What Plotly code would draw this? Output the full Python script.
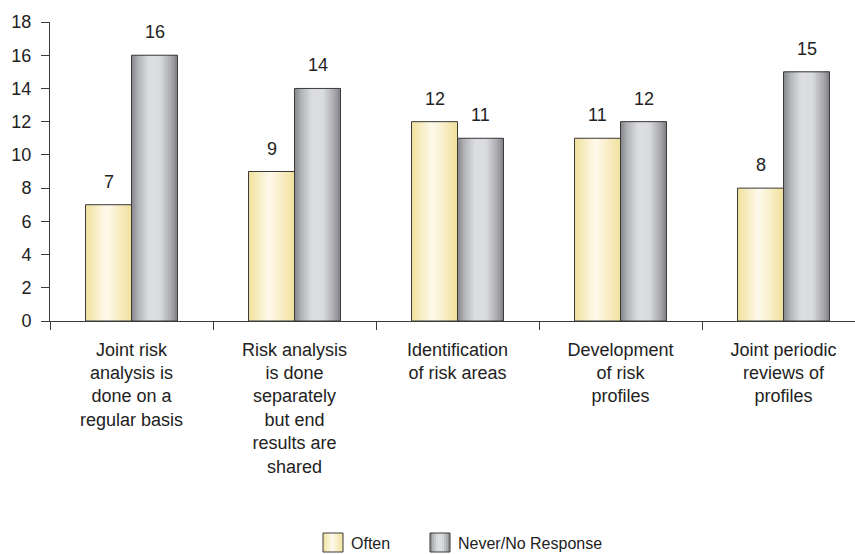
import plotly.graph_objects as go

# --- data ---
categories = [
    "Joint risk<br>analysis is<br>done on a<br>regular basis",
    "Risk analysis<br>is done<br>separately<br>but end<br>results are<br>shared",
    "Identification<br>of risk areas",
    "Development<br>of risk<br>profiles",
    "Joint periodic<br>reviews of<br>profiles",
]
often = [7, 9, 12, 11, 8]
never = [16, 14, 11, 12, 15]
series_names = ["Often", "Never/No Response"]
y_ticks = list(range(0, 19, 2))

# --- styling ---
W, H = 855, 554
ML, MR, MT, MB = 50, 0, 22, 233
FONT = "Liberation Sans, Arial, Helvetica, sans-serif"
TXT = "#222222"
EDGE = "#3a3a3a"
BAR_W = 0.282          # bar width in category units
N_STRIPS = 24

often_stops = [(0.0, "#F1E19C"), (0.45, "#FEF9EC"), (0.55, "#FCF5DF"), (1.0, "#F1E19C")]
never_stops = [(0.0, "#85868B"), (0.15, "#B3B4B8"), (0.38, "#DDDEE1"),
               (0.62, "#DADBDE"), (0.85, "#ACADB1"), (1.0, "#828388")]


def hex_rgb(h):
    h = h.lstrip("#")
    return tuple(int(h[i:i + 2], 16) for i in (0, 2, 4))


def grad(stops, t):
    for (t0, c0), (t1, c1) in zip(stops, stops[1:]):
        if t0 <= t <= t1:
            f = (t - t0) / (t1 - t0) if t1 > t0 else 0
            a, b = hex_rgb(c0), hex_rgb(c1)
            r = [round(a[k] + (b[k] - a[k]) * f) for k in range(3)]
            return "rgb(%d,%d,%d)" % tuple(r)
    return stops[-1][1]


fig = go.Figure()

x_range = [-0.5, -0.5 + (W - ML - MR) / 163.0]

for vals, stops, start in ((often, often_stops, -BAR_W), (never, never_stops, 0.0)):
    dw = BAR_W / N_STRIPS
    # shaded strips, each running to the right edge so no seams show
    for i in range(N_STRIPS):
        fig.add_trace(go.Bar(
            x=categories, y=vals,
            offset=start + i * dw, width=BAR_W - i * dw,
            marker=dict(color=grad(stops, (i + 0.5) / N_STRIPS), line=dict(width=0)),
            showlegend=False, hoverinfo="skip",
        ))
    # outline
    fig.add_trace(go.Bar(
        x=categories, y=vals, offset=start, width=BAR_W,
        marker=dict(color="rgba(0,0,0,0)", line=dict(color=EDGE, width=1)),
        showlegend=False, hoverinfo="skip",
    ))

# value labels above each bar
for vals, shift in ((often, -23), (never, 23)):
    for c, v in zip(categories, vals):
        fig.add_annotation(x=c, y=v, text=str(v), showarrow=False, xshift=shift,
                           yshift=23, font=dict(family=FONT, size=18, color=TXT))

# legend drawn as gradient swatches + labels
pw, ph = W - ML - MR, H - MT - MB


def px_x(p):
    return (p - ML) / pw


def px_y(p):
    return (H - MB - p) / ph


legend_items = [(323, often_stops), (430, never_stops)]
for (x0, stops), name in zip(legend_items, series_names):
    n = 10
    for i in range(n):
        a = x0 + 20 * i / n
        fig.add_shape(type="rect", xref="paper", yref="paper",
                      x0=px_x(a), x1=px_x(x0 + 20), y0=px_y(552), y1=px_y(533),
                      fillcolor=grad(stops, (i + 0.5) / n), line=dict(width=0), layer="above")
    fig.add_shape(type="rect", xref="paper", yref="paper",
                  x0=px_x(x0), x1=px_x(x0 + 20), y0=px_y(552), y1=px_y(533),
                  fillcolor="rgba(0,0,0,0)", line=dict(color=EDGE, width=1), layer="above")
    fig.add_annotation(xref="paper", yref="paper", x=px_x(x0 + 26), y=px_y(543),
                       xanchor="left", yanchor="middle", text=name, showarrow=False,
                       font=dict(family=FONT, size=16, color=TXT))

fig.update_layout(
    width=W, height=H,
    margin=dict(l=ML, r=MR, t=MT, b=MB, pad=0),
    barmode="overlay",
    plot_bgcolor="white", paper_bgcolor="white",
    showlegend=False,
    font=dict(family=FONT, size=18, color=TXT),
)
fig.update_xaxes(
    type="category", range=x_range,
    showline=True, linecolor=EDGE, linewidth=1,
    ticks="outside", ticklen=8, tickcolor=EDGE, tickwidth=1, tickson="boundaries",
    ticklabelstandoff=12,
    showgrid=False, zeroline=False,
    tickfont=dict(family=FONT, size=18, color=TXT),
)
fig.update_yaxes(
    range=[0, 18], tickvals=y_ticks,
    showline=True, linecolor=EDGE, linewidth=1,
    ticks="outside", ticklen=8, tickcolor=EDGE, tickwidth=1,
    ticklabelstandoff=6,
    showgrid=False, zeroline=False,
    tickfont=dict(family=FONT, size=18, color=TXT),
)

fig.write_html("out.html")
